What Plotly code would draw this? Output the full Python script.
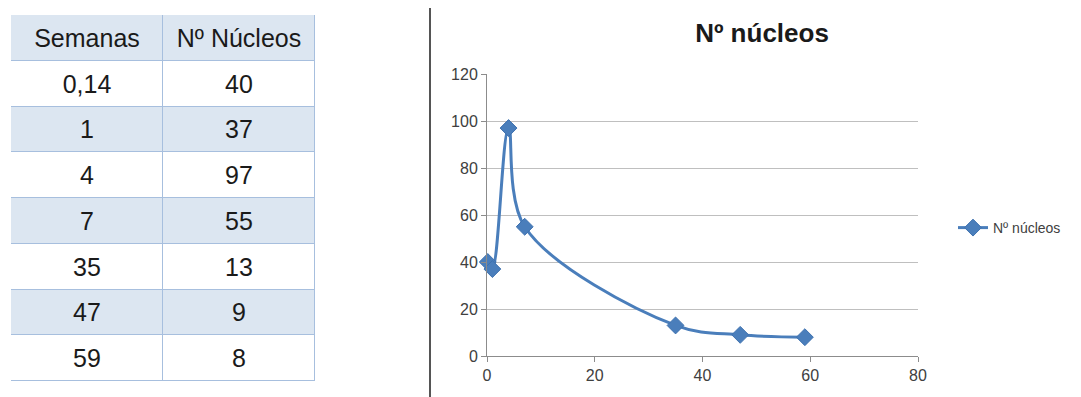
import plotly.graph_objects as go

semanas = [0.14, 1, 4, 7, 35, 47, 59]
semanas_txt = ["0,14", "1", "4", "7", "35", "47", "59"]
nucleos = [40, 37, 97, 55, 13, 9, 8]
headers = ["Semanas", "Nº Núcleos"]
series_name = "Nº núcleos"
x_ticks = [0, 20, 40, 60, 80]
y_ticks = [0, 20, 40, 60, 80, 100, 120]

# the page body has an 8px margin: the figure is sized so it fills the window
OX, OY = 8, 8
W, H = 1081 - OX, 397 - OY


def px(x):
    return (x - OX) / W


def py(y):
    return (H - (y - OY)) / H


blue = "#4a7ebb"

# table as a heatmap: header row + data rows
n = len(semanas)
table_text = [headers] + [[semanas_txt[i], str(nucleos[i])] for i in range(n)]
table_z = [[1, 1]] + [[0, 0] if i % 2 == 0 else [1, 1] for i in range(n)]

fig = go.Figure()

fig.add_trace(go.Heatmap(
    z=table_z, x=[0, 1], y=list(range(n + 1)), text=table_text, texttemplate="%{text}",
    textfont=dict(family="Liberation Sans, Arial, sans-serif", size=25, color="#1a1a1a"),
    colorscale=[[0, "#ffffff"], [1, "#dce6f1"]], zmin=0, zmax=1, showscale=False,
    xgap=1, ygap=1, hoverinfo="skip", xaxis="x2", yaxis="y2", showlegend=False,
))

fig.add_trace(go.Scatter(
    x=semanas, y=nucleos, name=series_name, mode="lines+markers",
    line=dict(color=blue, width=3, shape="spline", smoothing=1),
    marker=dict(symbol="diamond", size=13, color=blue, line=dict(color="#3f72b0", width=1)),
    cliponaxis=False, xaxis="x", yaxis="y",
))

fig.update_layout(
    width=W, height=H,
    margin=dict(l=0, r=0, t=0, b=0),
    paper_bgcolor="white", plot_bgcolor="white",
    font=dict(family="Liberation Sans, Arial, sans-serif", color="#404040"),
    title=dict(text="<b>Nº núcleos</b>", x=px(762), y=py(33), xanchor="center", yanchor="middle",
               font=dict(size=26, color="#1a1a1a", family="Liberation Sans, Arial, sans-serif")),
    xaxis=dict(domain=[px(487), px(918)], range=[0, 80], tickvals=x_ticks, showgrid=False,
               showline=True, linecolor="#8c8c8c", linewidth=1, ticks="outside", ticklen=5,
               tickcolor="#8c8c8c", tickfont=dict(size=16, color="#404040"), zeroline=False,
               automargin=False, anchor="y", fixedrange=True),
    yaxis=dict(domain=[py(356), py(74)], range=[0, 120], tickvals=y_ticks,
               showgrid=True, gridcolor="#bfbfbf", gridwidth=1, showline=True, linecolor="#8c8c8c",
               linewidth=1, ticks="outside", ticklen=5, tickcolor="#8c8c8c",
               tickfont=dict(size=16, color="#404040"), zeroline=False, automargin=False,
               anchor="x", fixedrange=True),
    xaxis2=dict(domain=[px(11), px(315)], range=[-0.5, 1.5], visible=False, anchor="y2",
                fixedrange=True),
    yaxis2=dict(domain=[py(381), py(15)], range=[n + 0.5, -0.5], visible=False, anchor="x2",
                fixedrange=True),
    showlegend=True,
    legend=dict(x=px(953), y=py(228), xanchor="left", yanchor="middle",
                font=dict(size=14, color="#404040"), bgcolor="rgba(0,0,0,0)"),
    shapes=[
        dict(type="rect", xref="x2 domain", yref="y2 domain", x0=0, x1=1, y0=0, y1=1,
             fillcolor="#a7bfde", line=dict(width=0), layer="below"),
        dict(type="line", xref="paper", yref="paper", x0=px(430), x1=px(430), y0=0, y1=1,
             line=dict(color="#555555", width=2)),
    ],
)

fig.write_html("out.html")
